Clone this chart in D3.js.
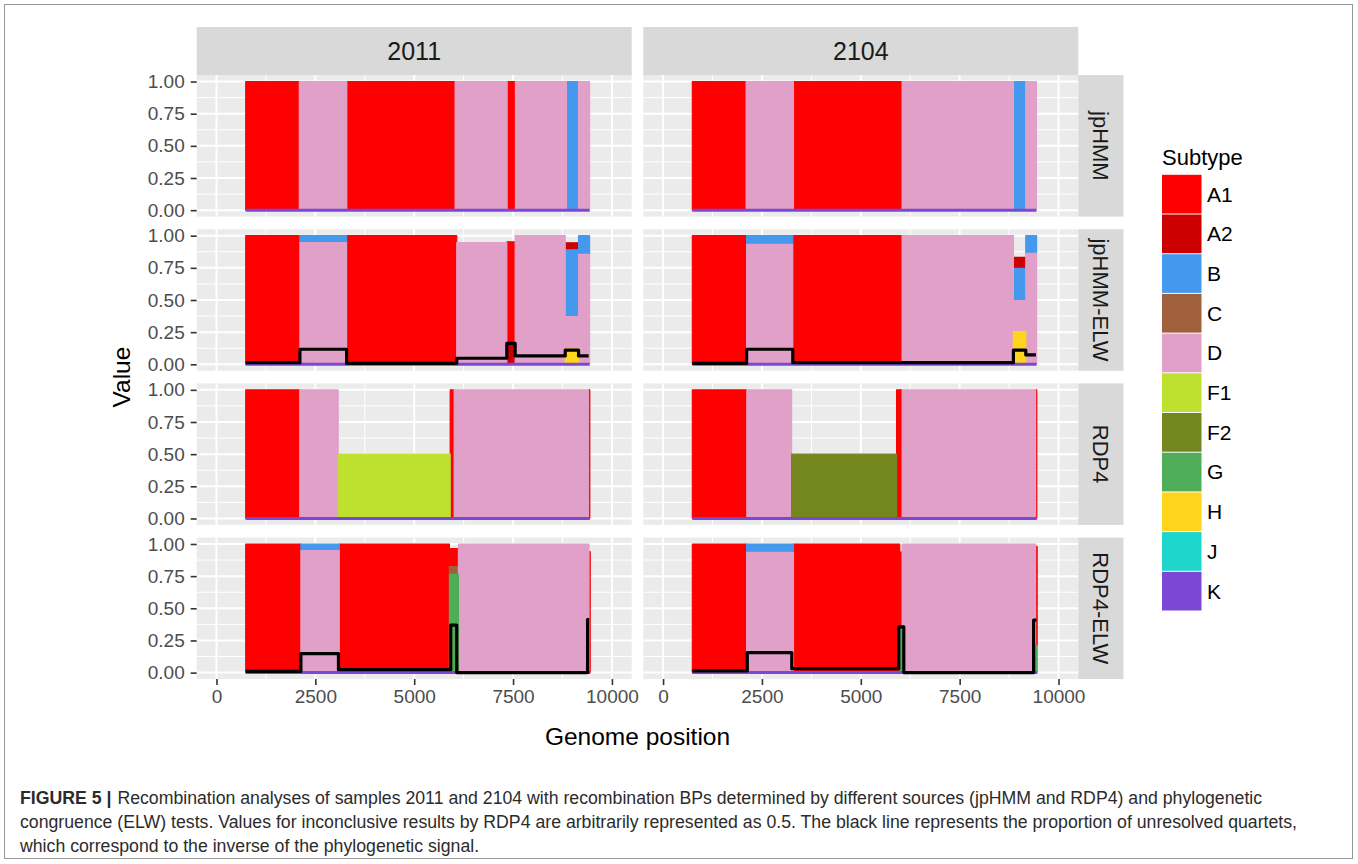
<!DOCTYPE html>
<html><head><meta charset="utf-8">
<script src="https://cdn.jsdelivr.net/npm/d3@7"></script>
<style>
body{margin:0;background:#fff;}
svg{display:block;font-family:"Liberation Sans",Arial,Helvetica,sans-serif;}
</style>
</head><body>
<svg id="chart" width="1358" height="864"></svg>
<script>
// ---------------- data ----------------
const subtypes = ["A1","A2","B","C","D","F1","F2","G","H","J","K"];
const subtypeColors = ["#ff0000","#cc0000","#4499ee","#a0603c","#e0a0c8","#bee02e","#74861e","#4fad5a","#ffd41c","#1fd6cc","#7b48d6"];
const samples = ["2011","2104"];
const methods = ["jpHMM","jpHMM-ELW","RDP4","RDP4-ELW"];
const xTicks = [0,2500,5000,7500,10000];
const xMinor = [1250,3750,6250,8750];
const yTicks = [0,0.25,0.5,0.75,1];
const yMinor = [0.125,0.375,0.625,0.875];
const yTickLabels = ["0.00","0.25","0.50","0.75","1.00"];

// segment rows: start, end, A1, A2, B, C, D, F1, F2, G, H, J, K
const jpHMM_2011 = [
  [740, 2095, 1,0,0,0,0,0,0,0,0,0,0],
  [2095,3295, 0,0,0,0,1,0,0,0,0,0,0],
  [3295,6035, 1,0,0,0,0,0,0,0,0,0,0],
  [6035,7350, 0,0,0,0,1,0,0,0,0,0,0],
  [7350,7560, 1,0,0,0,0,0,0,0,0,0,0],
  [7560,8850, 0,0,0,0,1,0,0,0,0,0,0],
  [8850,9155, 0,0,1,0,0,0,0,0,0,0,0],
  [9155,9435, 0,0,0,0,1,0,0,0,0,0,0]
];
const jpHMM_2104 = [
  [740, 2100, 1,0,0,0,0,0,0,0,0,0,0],
  [2100,3297, 0,0,0,0,1,0,0,0,0,0,0],
  [3297,6044, 1,0,0,0,0,0,0,0,0,0,0],
  [6044,8860, 0,0,0,0,1,0,0,0,0,0,0],
  [8860,9170, 0,0,1,0,0,0,0,0,0,0,0],
  [9170,9440, 0,0,0,0,1,0,0,0,0,0,0]
];
const jpHMMELW_2011 = [
  [740, 2110, 1,0,0,0,0,0,0,0,0,0,0],
  [2110,3290, 0,0,0.054,0,0.946,0,0,0,0,0,0],
  [3290,6076, 1,0,0,0,0,0,0,0,0,0,0],
  [6076,7342, 0,0,0,0,0.946,0,0,0,0,0,0],
  [7342,7553, 0.79,0.163,0,0,0,0,0,0,0,0,0],
  [7553,8819, 0,0,0,0,1,0,0,0,0,0,0],
  [8819,9156, 0,0.055,0.52,0,0.25,0,0,0,0.12,0,0],
  [9156,9435, 0,0,0.145,0,0.855,0,0,0,0,0,0]
];
const jpHMMELW_2104 = [
  [740, 2113, 1,0,0,0,0,0,0,0,0,0,0],
  [2113,3280, 0,0,0.067,0,0.933,0,0,0,0,0,0],
  [3280,6044, 1,0,0,0,0,0,0,0,0,0,0],
  [6044,8859, 0,0,0,0,1,0,0,0,0,0,0],
  [8859,9172, 0,0.086,0.251,0,0.241,0,0,0,0.254,0,0],
  [9172,9445, 0,0,0.137,0,0.863,0,0,0,0,0,0]
];
const RDP4_2011 = [
  [740, 2105, 1,0,0,0,0,0,0,0,0,0,0],
  [2105,3077, 0,0,0,0,1,0,0,0,0,0,0],
  [3077,5910, 0,0,0,0,0,0.5,0,0,0,0,0],
  [5910,6010, 1,0,0,0,0,0,0,0,0,0,0],
  [6010,9405, 0,0,0,0,1,0,0,0,0,0,0],
  [9405,9440, 1,0,0,0,0,0,0,0,0,0,0]
];
const RDP4_2104 = [
  [740, 2118, 1,0,0,0,0,0,0,0,0,0,0],
  [2118,3250, 0,0,0,0,1,0,0,0,0,0,0],
  [3250,5905, 0,0,0,0,0,0,0.5,0,0,0,0],
  [5905,6045, 1,0,0,0,0,0,0,0,0,0,0],
  [6045,9420, 0,0,0,0,1,0,0,0,0,0,0],
  [9420,9450, 1,0,0,0,0,0,0,0,0,0,0]
];
const RDP4ELW_2011 = [
  [740, 2135, 1,0,0,0,0,0,0,0,0,0,0],
  [2135,3105, 0,0,0.052,0,0.948,0,0,0,0,0,0],
  [3105,5890, 1,0,0,0,0,0,0,0,0,0,0],
  [5890,6118, 0.14,0,0,0.06,0,0,0,0.764,0,0,0],
  [6118,9420, 0,0,0,0,1,0,0,0,0,0,0],
  [9420,9450, 0.94,0,0,0,0,0,0,0,0,0,0]
];
const RDP4ELW_2104 = [
  [740, 2113, 1,0,0,0,0,0,0,0,0,0,0],
  [2113,3297, 0,0,0.065,0,0.935,0,0,0,0,0,0],
  [3297,5985, 1,0,0,0,0,0,0,0,0,0,0],
  [5985,6044, 0.58,0,0,0,0,0,0,0.356,0,0,0],
  [6044,9420, 0,0,0,0,1,0,0,0,0,0,0],
  [9420,9460, 0.77,0,0,0,0,0,0,0.21,0,0,0]
];
// proportion of unresolved quartets: start, end, value
const unresolved_jpHMMELW_2011 = [
  [740,2110,0.013],[2110,3290,0.117],[3290,6076,0.008],[6076,7342,0.047],
  [7342,7553,0.163],[7553,8819,0.065],[8819,9156,0.11],[9156,9410,0.065]
];
const unresolved_jpHMMELW_2104 = [
  [740,2113,0.008],[2113,3280,0.117],[3280,8859,0.013],[8859,9172,0.11],[9172,9430,0.073]
];
const unresolved_RDP4ELW_2011 = [
  [740,2135,0.01],[2135,3085,0.148],[3085,5924,0.023],[5924,6076,0.369],
  [6076,9384,0.0],[9384,9426,0.413]
];
const unresolved_RDP4ELW_2104 = [
  [740,2130,0.013],[2130,3255,0.156],[3255,5960,0.031],[5960,6087,0.356],
  [6087,9370,0.0],[9370,9440,0.408]
];

const captionBold = "FIGURE 5 |";
const captionLines = [
  "Recombination analyses of samples 2011 and 2104 with recombination BPs determined by different sources (jpHMM and RDP4) and phylogenetic",
  "congruence (ELW) tests. Values for inconclusive results by RDP4 are arbitrarily represented as 0.5. The black line represents the proportion of unresolved quartets,",
  "which correspond to the inverse of the phylogenetic signal."
];

const segmentsByPanel = [
  [jpHMM_2011, jpHMM_2104],
  [jpHMMELW_2011, jpHMMELW_2104],
  [RDP4_2011, RDP4_2104],
  [RDP4ELW_2011, RDP4ELW_2104]
];
const unresolvedByPanel = [
  [null, null],
  [unresolved_jpHMMELW_2011, unresolved_jpHMMELW_2104],
  [null, null],
  [unresolved_RDP4ELW_2011, unresolved_RDP4ELW_2104]
];

// ---------------- layout ----------------
const svg = d3.select("#chart");
const colLeft = [196.7, 643.3];
const panelW = 435;
const rowTop0 = 75.1, rowPitch = 154.15, panelH = 141.5;
const stripTop = 27;
const stripRightW = 45.2;

const color = d3.scaleOrdinal().domain(subtypes).range(subtypeColors);
const stackKeys = subtypes.slice().reverse(); // K at bottom, A1 on top

svg.append("rect").attr("x",4.5).attr("y",4.5).attr("width",1348).attr("height",854)
  .attr("fill","none").attr("stroke","#9a9a9a").attr("stroke-width",1);

const defs = svg.append("defs");

methods.forEach((m, r) => {
  const top = rowTop0 + r * rowPitch;
  const y = d3.scaleLinear().domain([-0.05, 1.05]).range([top + panelH, top]);

  samples.forEach((s, c) => {
    const left = colLeft[c];
    const x = d3.scaleLinear().domain([-500, 10500]).range([left, left + panelW]);
    const g = svg.append("g");
    const clipId = `clip-${r}-${c}`;
    defs.append("clipPath").attr("id", clipId).append("rect")
      .attr("x", left).attr("y", top).attr("width", panelW).attr("height", panelH);

    g.append("rect").attr("x", left).attr("y", top).attr("width", panelW).attr("height", panelH).attr("fill", "#ebebeb");
    g.selectAll(".ymn").data(yMinor).join("line")
      .attr("x1", left).attr("x2", left + panelW).attr("y1", d => y(d)).attr("y2", d => y(d))
      .attr("stroke", "#fff").attr("stroke-width", 1);
    g.selectAll(".xmn").data(xMinor).join("line")
      .attr("y1", top).attr("y2", top + panelH).attr("x1", d => x(d)).attr("x2", d => x(d))
      .attr("stroke", "#fff").attr("stroke-width", 1);
    g.selectAll(".ymj").data(yTicks).join("line")
      .attr("x1", left).attr("x2", left + panelW).attr("y1", d => y(d)).attr("y2", d => y(d))
      .attr("stroke", "#fff").attr("stroke-width", 2);
    g.selectAll(".xmj").data(xTicks).join("line")
      .attr("y1", top).attr("y2", top + panelH).attr("x1", d => x(d)).attr("x2", d => x(d))
      .attr("stroke", "#fff").attr("stroke-width", 2);

    const pg = g.append("g").attr("clip-path", `url(#${clipId})`);

    const rows = segmentsByPanel[r][c].map(row => {
      const o = {x0: row[0], x1: row[1]};
      subtypes.forEach((k, i) => o[k] = row[2 + i]);
      return o;
    });
    const series = d3.stack().keys(stackKeys)(rows);
    series.slice().reverse().forEach(ser => {
      const col = color(ser.key);
      pg.selectAll(null).data(ser.filter(d => d[1] - d[0] > 0)).join("rect")
        .attr("x", d => x(d.data.x0))
        .attr("width", d => x(d.data.x1) - x(d.data.x0))
        .attr("y", d => y(d[1]))
        .attr("height", d => y(d[0]) - y(d[1]))
        .attr("fill", col).attr("stroke", col).attr("stroke-width", 1.2)
        .attr("stroke-linejoin", "round");
    });
    const xs = rows.map(d => d.x0), xe = rows.map(d => d.x1);
    pg.append("line")
      .attr("x1", x(d3.min(xs))).attr("x2", x(d3.max(xe)))
      .attr("y1", y(0)).attr("y2", y(0))
      .attr("stroke", color("K")).attr("stroke-width", 3);

    const un = unresolvedByPanel[r][c];
    if (un) {
      const pts = [];
      un.forEach(d => { pts.push([d[0], d[2]]); pts.push([d[1], d[2]]); });
      pg.append("path")
        .attr("d", d3.line().x(d => x(d[0])).y(d => y(d[1]))(pts))
        .attr("fill", "none").attr("stroke", "#000").attr("stroke-width", 3.2)
        .attr("stroke-linejoin", "round");
    }

    if (c === 0) {
      const ya = svg.append("g").attr("transform", `translate(${left},0)`)
        .call(d3.axisLeft(y).tickValues(yTicks).tickSize(6).tickPadding(6)
          .tickFormat((d, i) => yTickLabels[i]));
      ya.select(".domain").remove();
      ya.selectAll(".tick line").attr("stroke", "#333").attr("stroke-width", 1.6);
      ya.selectAll(".tick text").attr("fill", "#4d4d4d").attr("font-size", 19)
        .attr("font-family", "Liberation Sans, Arial, sans-serif");
    }
    if (r === methods.length - 1) {
      const xa = svg.append("g").attr("transform", `translate(0,${top + panelH})`)
        .call(d3.axisBottom(x).tickValues(xTicks).tickSize(6).tickPadding(4).tickFormat(d3.format("d")));
      xa.select(".domain").remove();
      xa.selectAll(".tick line").attr("stroke", "#333").attr("stroke-width", 1.6);
      xa.selectAll(".tick text").attr("fill", "#4d4d4d").attr("font-size", 19)
        .attr("font-family", "Liberation Sans, Arial, sans-serif");
    }
  });

  const sx = colLeft[1] + panelW;
  svg.append("rect").attr("x", sx).attr("y", top).attr("width", stripRightW).attr("height", panelH).attr("fill", "#d9d9d9");
  svg.append("text").attr("transform", `translate(${sx + stripRightW / 2},${top + panelH / 2}) rotate(90)`)
    .attr("text-anchor", "middle").attr("dy", "0.35em").attr("font-size", 22).attr("fill", "#1a1a1a").text(m);
});

samples.forEach((s, c) => {
  svg.append("rect").attr("x", colLeft[c]).attr("y", stripTop).attr("width", panelW).attr("height", rowTop0 - stripTop).attr("fill", "#d9d9d9");
  svg.append("text").attr("x", colLeft[c] + panelW / 2).attr("y", (stripTop + rowTop0) / 2)
    .attr("text-anchor", "middle").attr("dy", "0.35em").attr("font-size", 25).attr("fill", "#1a1a1a").text(s);
});

const plotBottom = rowTop0 + 3 * rowPitch + panelH;
svg.append("text").attr("x", (colLeft[0] + colLeft[1] + panelW) / 2).attr("y", 745)
  .attr("text-anchor", "middle").attr("font-size", 24.5).attr("fill", "#000").text("Genome position");
svg.append("text").attr("transform", `translate(130,${(rowTop0 + plotBottom) / 2}) rotate(-90)`)
  .attr("text-anchor", "middle").attr("font-size", 24.5).attr("fill", "#000").text("Value");

const lg = svg.append("g");
lg.append("text").attr("x", 1162).attr("y", 165).attr("font-size", 22).attr("fill", "#000").text("Subtype");
const keyTop = 174.3, keyH = 39.7;
subtypes.forEach((k, i) => {
  lg.append("rect").attr("x", 1162).attr("y", keyTop + i * keyH + 0.5).attr("width", 39.5).attr("height", keyH - 1)
    .attr("fill", color(k));
  lg.append("text").attr("x", 1207).attr("y", keyTop + i * keyH + keyH / 2).attr("dy", "0.35em")
    .attr("font-size", 21).attr("fill", "#000").text(k);
});

// caption: one common horizontal compression, fitted on the full second line
const cap = svg.append("g").attr("font-size", 17.5).attr("fill", "#2b2b2b");
const capY = [804, 828, 852];
const tBold = cap.append("text").attr("x", 20).attr("y", capY[0]).attr("font-weight", "bold").text(captionBold);
const t1 = cap.append("text").attr("x", 123).attr("y", capY[0]).text(captionLines[0]);
const t2 = cap.append("text").attr("x", 20).attr("y", capY[1]).text(captionLines[1]);
const t3 = cap.append("text").attr("x", 20).attr("y", capY[2]).text(captionLines[2]);
const k = 1277 / t2.node().getComputedTextLength();
[tBold, t1, t2, t3].forEach(t => {
  const w = t.node().getComputedTextLength();
  t.attr("textLength", w * k).attr("lengthAdjust", "spacingAndGlyphs");
});
t1.attr("x", 20 + tBold.node().getComputedTextLength() * k + 5);
</script>
</body></html>
